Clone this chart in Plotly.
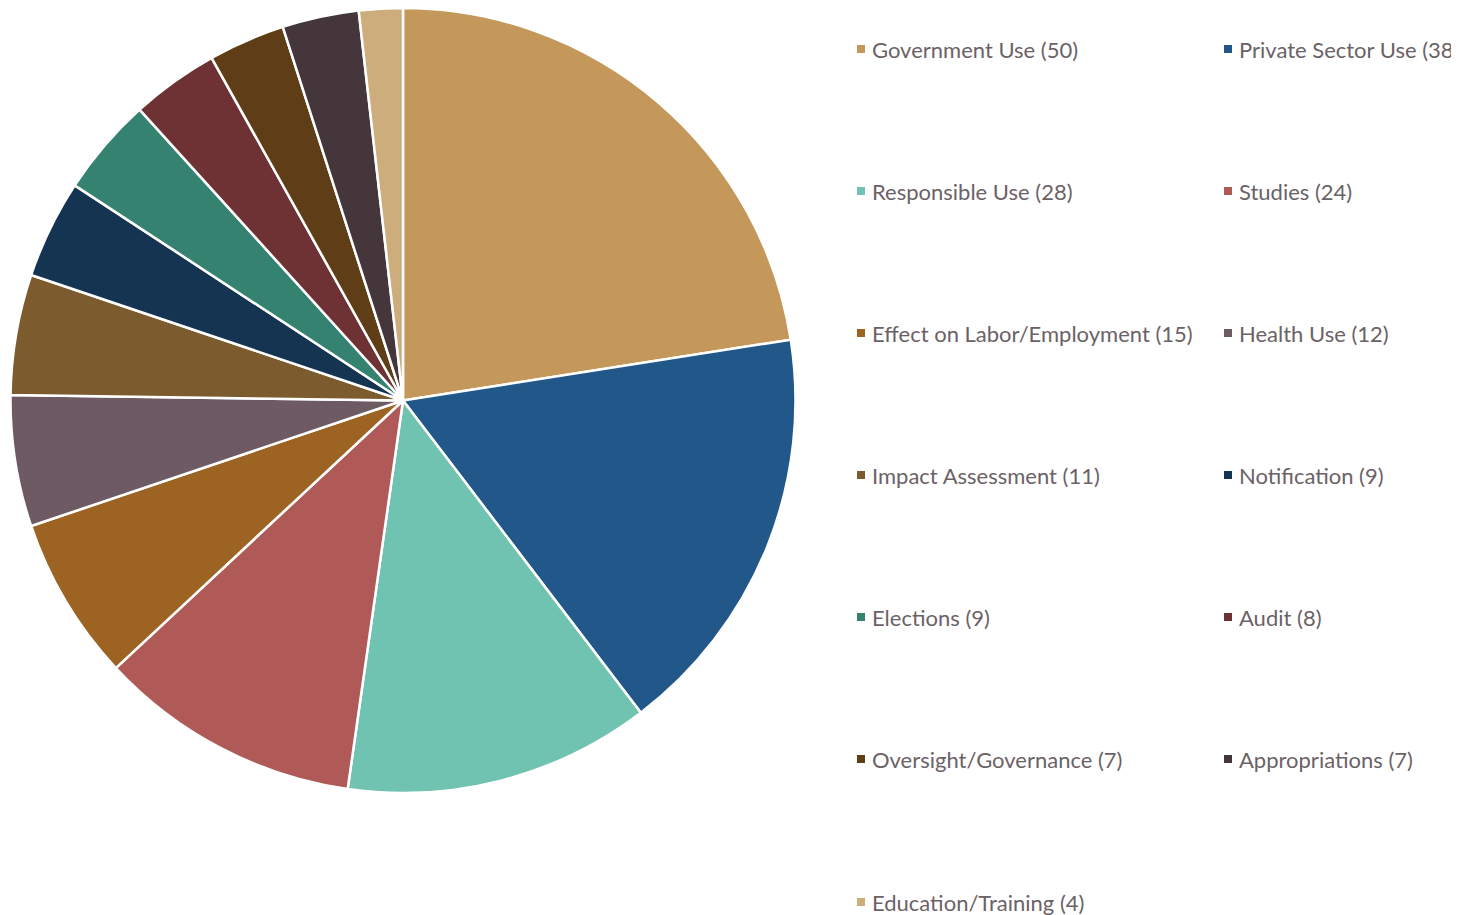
import plotly.graph_objects as go

categories = ["Government Use", "Private Sector Use", "Responsible Use", "Studies",
              "Effect on Labor/Employment", "Health Use", "Impact Assessment", "Notification",
              "Elections", "Audit", "Oversight/Governance", "Appropriations", "Education/Training"]
values = [50, 38, 28, 24, 15, 12, 11, 9, 9, 8, 7, 7, 4]
colors = ["#C3985A", "#22578A", "#70C3B0", "#B05A58", "#9C6322", "#6E5A63", "#7C5B2E",
          "#143452", "#358270", "#6E3234", "#5E3D17", "#44363B", "#CDAD7C"]

OFF = 8  # page body margin
W, H = 1459 - OFF, 915 - OFF


def px(x):
    return (x - OFF) / W


def py(y):
    return 1 - (y - OFF) / H


fig = go.Figure()
fig.add_trace(go.Pie(
    labels=categories, values=values, sort=False, direction="clockwise", rotation=0,
    marker=dict(colors=colors, line=dict(color="white", width=2.5)),
    textinfo="none", hoverinfo="label+value", showlegend=False,
    domain=dict(x=[px(8), px(798)], y=[py(793), 1]),
))

annotations = []
shapes = []
col_x = [861, 1228]
row_y0, row_dy = 49, 142
for i, (cat, val, col) in enumerate(zip(categories, values, colors)):
    r, c = divmod(i, 2)
    xm = col_x[c]
    ym = row_y0 + r * row_dy + (1 if r == 6 else 0)
    shapes.append(dict(type="rect", xref="paper", yref="paper",
                       x0=px(xm - 4), x1=px(xm + 4),
                       y0=py(ym + 4), y1=py(ym - 4),
                       fillcolor=col, line=dict(width=0)))
    annotations.append(dict(xref="paper", yref="paper", x=px(xm + 9), y=py(ym),
                            xanchor="left", yanchor="middle", showarrow=False,
                            text=f"{cat} ({val})",
                            font=dict(family="Lato, Open Sans, sans-serif", size=22, color="#6B6266")))

fig.update_layout(width=W, height=H, margin=dict(l=0, r=0, t=0, b=0),
                  paper_bgcolor="white", plot_bgcolor="white",
                  shapes=shapes, annotations=annotations)
fig.write_html("out.html")
